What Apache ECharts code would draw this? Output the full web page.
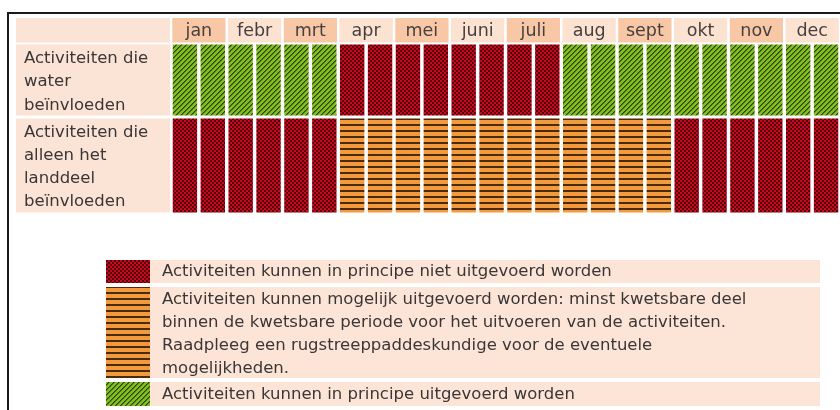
<!DOCTYPE html>
<html><head><meta charset="utf-8">
<script src="https://cdn.jsdelivr.net/npm/echarts@6/dist/echarts.min.js"></script>
<style>html,body{margin:0;padding:0;background:#fff}#c{width:840px;height:410px}</style>
</head><body><div id="c"></div>
<script>
// ---- data ----
const months = ['jan','febr','mrt','apr','mei','juni','juli','aug','sept','okt','nov','dec'];
const halfMonths = months.flatMap(m => [m + ' I', m + ' II']);
const rowLabels = ['Activiteiten die\nwater\nbeïnvloeden', 'Activiteiten die\nalleen het\nlanddeel\nbeïnvloeden'];
// 0 = niet, 1 = mogelijk, 2 = wel uitvoerbaar (per halve maand)
const waterRow = [2,2,2,2,2,2, 0,0,0,0,0,0,0,0, 2,2,2,2,2,2,2,2,2,2];
const landRow  = [0,0,0,0,0,0, 1,1,1,1,1,1,1,1,1,1,1,1, 0,0,0,0,0,0];
const legendTexts = [
  'Activiteiten kunnen in principe niet uitgevoerd worden',
  'Activiteiten kunnen mogelijk uitgevoerd worden: minst kwetsbare deel\nbinnen de kwetsbare periode voor het uitvoeren van de activiteiten.\nRaadpleeg een rugstreeppaddeskundige voor de eventuele\nmogelijkheden.',
  'Activiteiten kunnen in principe uitgevoerd worden'
];
const legendStatus = [0, 1, 2];

// ---- patterns ----
function tile(w, h, fn) {
  const c = document.createElement('canvas'); c.width = w; c.height = h;
  const ctx = c.getContext('2d');
  for (let y = 0; y < h; y++) for (let x = 0; x < w; x++) { ctx.fillStyle = fn(x, y); ctx.fillRect(x, y, 1, 1); }
  return { image: c, repeat: 'repeat' };
}
const patterns = [
  tile(4, 4, (x, y) => (((x >> 1) + (y >> 1)) % 2) ? '#55000a' : '#c8081e'),
  tile(1, 6, (x, y) => y >= 4 ? '#4a2a08' : '#f39b3c'),
  tile(5, 5, (x, y) => { const k = (x + y) % 5; return k === 0 ? '#2a4505' : (k === 1 ? '#4f7a10' : '#84bd22'); })
];

const FONT = '"DejaVu Sans", Verdana, sans-serif';
const TXT = '#3a3636';
const FS = 16.5;

function cellRender(params, api) {
  const i = api.value(0), s = api.value(2);
  const c = api.coord([i, 0]);
  const sz = api.size([1, 1]);
  const gx = 3.5, gy = 1.5;
  return { type: 'rect',
    shape: { x: c[0] - sz[0] / 2 + gx / 2, y: c[1] - sz[1] / 2 + gy, width: sz[0] - gx, height: sz[1] - 2 * gy },
    style: { fill: patterns[s] } };
}
function headRender(params, api) {
  const i = api.value(0);
  const c = api.coord([i, 0]);
  const sz = api.size([1, 1]);
  return { type: 'group', children: [
    { type: 'rect', shape: { x: c[0] - sz[0] / 2 + 1.25, y: c[1] - sz[1] / 2, width: sz[0] - 2.5, height: sz[1] },
      style: { fill: i % 2 === 0 ? '#f8c8a6' : '#fbe2d1' } },
    { type: 'text', style: { text: months[i], x: c[0], y: c[1] + 1, align: 'center', verticalAlign: 'middle',
      fontSize: 17.5, fontFamily: FONT, fill: '#463f3f' } }
  ] };
}

const hidden = { axisLine: { show: false }, axisTick: { show: false }, axisLabel: { show: false }, splitLine: { show: false } };
const grids = [
  { left: 171, right: 0, top: 18, height: 24.5 },
  { left: 171, right: 0, top: 43, height: 74 },
  { left: 171, right: 0, top: 117, height: 97 }
];

const labelBoxes = [
  { y: 18, h: 24.5 },
  { y: 44.5, h: 71 },
  { y: 118.5, h: 94 }
];
const graphics = [];
labelBoxes.forEach(b => graphics.push({ type: 'rect', shape: { x: 16, y: b.y, width: 154, height: b.h }, style: { fill: '#fbe3d5' } }));
graphics.push({ type: 'text', style: { text: rowLabels[0], x: 24, y: 46.5, fontSize: FS, lineHeight: 23.5, fontFamily: FONT, fill: TXT } });
graphics.push({ type: 'text', style: { text: rowLabels[1], x: 24, y: 121.5, fontSize: FS, lineHeight: 23, fontFamily: FONT, fill: TXT } });
// legend
const legendBands = [ { y: 260, h: 23, ty: 271.5, mid: true }, { y: 287, h: 91, ty: 288.5 }, { y: 382, h: 24, ty: 394.5, mid: true } ];
legendBands.forEach((b, k) => {
  graphics.push({ type: 'rect', shape: { x: 150, y: b.y, width: 670, height: b.h }, style: { fill: '#fce5d7' } });
  graphics.push({ type: 'rect', shape: { x: 106, y: b.y, width: 44, height: b.h }, style: { fill: patterns[legendStatus[k]] } });
  graphics.push({ type: 'text', style: { text: legendTexts[k], x: 162, y: b.ty, verticalAlign: b.mid ? 'middle' : 'top',
    fontSize: FS, lineHeight: 23, fontFamily: FONT, fill: TXT } });
});
graphics.push({ type: 'polyline', shape: { points: [[8, 410], [8, 13], [840, 13]] }, style: { stroke: '#1a1a1a', lineWidth: 2, fill: null } });

const chart = echarts.init(document.getElementById('c'));
chart.setOption({
  animation: false,
  backgroundColor: '#ffffff',
  grid: grids,
  xAxis: [
    Object.assign({ type: 'category', gridIndex: 0, data: months }, hidden),
    Object.assign({ type: 'category', gridIndex: 1, data: halfMonths }, hidden),
    Object.assign({ type: 'category', gridIndex: 2, data: halfMonths }, hidden)
  ],
  yAxis: [
    Object.assign({ type: 'category', gridIndex: 0, data: ['maand'] }, hidden),
    Object.assign({ type: 'category', gridIndex: 1, data: [rowLabels[0]] }, hidden),
    Object.assign({ type: 'category', gridIndex: 2, data: [rowLabels[1]] }, hidden)
  ],
  graphic: graphics,
  series: [
    { type: 'custom', xAxisIndex: 0, yAxisIndex: 0, renderItem: headRender, data: months.map((m, i) => [i, 0]) },
    { type: 'custom', xAxisIndex: 1, yAxisIndex: 1, renderItem: cellRender, data: waterRow.map((s, i) => [i, 0, s]) },
    { type: 'custom', xAxisIndex: 2, yAxisIndex: 2, renderItem: cellRender, data: landRow.map((s, i) => [i, 0, s]) }
  ]
});
</script></body></html>
